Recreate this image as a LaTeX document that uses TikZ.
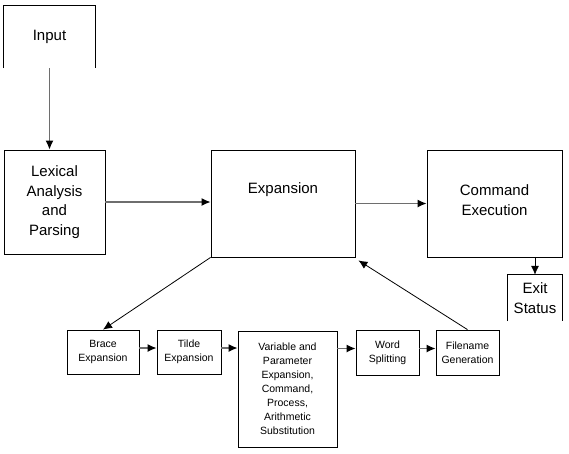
\documentclass[tikz,border=0pt]{standalone}
\usepackage{fontspec}
\setmainfont{Liberation Sans}
\usetikzlibrary{arrows.meta,calc}
\begin{document}
\begin{tikzpicture}[x=1pt,y=-1pt,
 big/.style={font=\fontsize{15}{19.5}\selectfont},
 box/.style={draw=black,line width=0.8pt,rectangle,inner sep=0pt,align=center,big},
 openbox/.style={rectangle,inner sep=0pt,align=center,big},
 sbox/.style={draw=black,line width=0.8pt,rectangle,inner sep=0pt,align=center,font=\fontsize{10.5}{14}\selectfont},
 lbl/.style={inner sep=0pt,align=center,big},
 garrow/.style={draw={rgb,255:red,110;green,110;blue,110},line width=1.3pt,-{Latex[length=9pt,width=8pt,color=black]}},
 barrow/.style={draw=black,line width=0.8pt,-{Latex[length=9pt,width=8pt]}},
]
\useasboundingbox (0,0) rectangle (569,453);

% top-level boxes
\node[openbox,minimum width=91pt,minimum height=62pt] (input) at (49.5,37) {Input};
\draw[line width=0.8pt] (input.south west) -- (input.north west) -- (input.north east) -- (input.south east);

\node[box,minimum width=101pt,minimum height=104pt] (lex) at (54.5,202) {Lexical\\Analysis\\and\\Parsing};

\node[box,minimum width=144pt,minimum height=107pt] (exp) at (283,203.5) {};
\node[lbl] (expt) at (283,190) {Expansion};

\node[box,minimum width=135pt,minimum height=107pt] (cmd) at (494.5,203.5) {};
\node[lbl] (cmdt) at (494.5,200) {Command\\Execution};

\node[openbox,minimum width=54pt,minimum height=46pt] (exit) at (535,298) {Exit\\Status};
\draw[line width=0.8pt] (exit.south west) -- (exit.north west) -- (exit.north east) -- (exit.south east);

% bottom row
\node[sbox,minimum width=72pt,minimum height=44pt] (brace) at (103,352) {Brace\\Expansion};
\node[sbox,minimum width=64pt,minimum height=44pt] (tilde) at (189,352) {Tilde\\Expansion};
\node[sbox,minimum width=99pt,minimum height=116pt] (var) at (287.5,389) {Variable and\\Parameter\\Expansion,\\Command,\\Process,\\Arithmetic\\Substitution};
\node[sbox,minimum width=63pt,minimum height=45pt] (word) at (387.5,352.5) {Word\\Splitting};
\node[sbox,minimum width=63pt,minimum height=45pt] (file) at (467.5,352.5) {Filename\\Generation};

% connectors
\draw[garrow] (input.south) -- (input.south |- lex.north);
\draw[garrow] (lex.east) -- (lex.east -| exp.west);
\draw[garrow] (exp.east) -- (cmd.west);
\draw[barrow] (exit.north |- cmd.south) -- (exit.north);
\draw[barrow] (exp.south west) -- (brace.north);
\draw[barrow] (file.north) -- ([xshift=3pt,yshift=-3pt]exp.south east);

\coordinate (a) at ([yshift=4pt]brace.east);
\draw[garrow] (a) -- (a -| tilde.west);
\coordinate (b) at ([yshift=4pt]tilde.east);
\draw[garrow] (b) -- (b -| var.west);
\coordinate (c) at ([yshift=4pt]word.west);
\draw[garrow] (c -| var.east) -- (c);
\coordinate (d) at ([yshift=4pt]word.east);
\draw[garrow] (d) -- (d -| file.west);
\end{tikzpicture}
\end{document}
